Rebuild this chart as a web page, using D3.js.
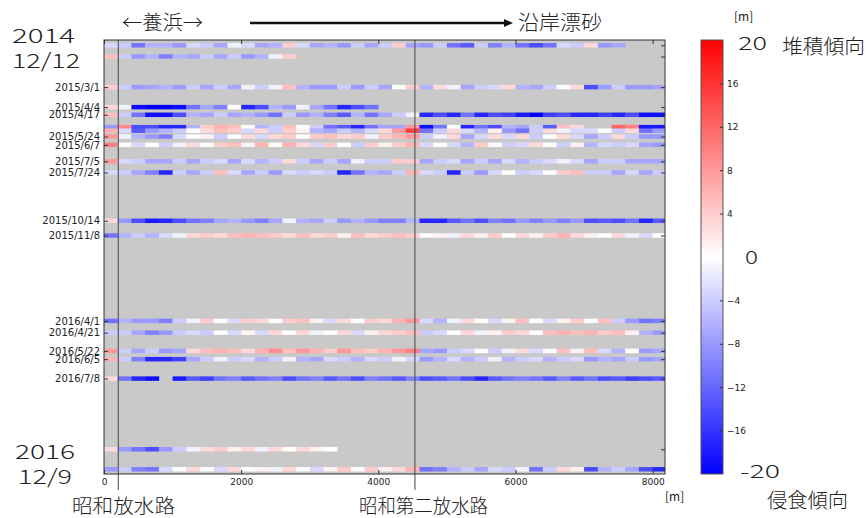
<!DOCTYPE html>
<html>
<head>
<meta charset="utf-8">
<script src="https://cdn.jsdelivr.net/npm/d3@7"></script>
<style>
  body { margin: 0; background: #fff; }
  svg { display: block; }
  .ax text { font-family: "DejaVu Sans", sans-serif; fill: #222; }
  .ax path { display: none; }
  .ax line { stroke: #333; }
  .jp { font-family: "Noto Sans CJK JP", sans-serif; fill: #222; }
</style>
</head>
<body>
<script>
// cell width along the shore [m]
var cellSize = 200;

// survey dates (one row each)
var rowDates = ["2014-12-20", "2015-01-08", "2015-03-01", "2015-04-04", "2015-04-17",
    "2015-05-08", "2015-05-14", "2015-05-24", "2015-06-07", "2015-07-05", "2015-07-24",
    "2015-10-14", "2015-11-08", "2016-04-01", "2016-04-21", "2016-05-22", "2016-06-05",
    "2016-07-08", "2016-11-05", "2016-12-09"];

// shoreline change [m] per 200 m cell, starting at 0 m
var r141220 = [-3, -4, -11, -6, -6, -8, -3, -4, -7, -1, -3, -7, -6, 4, -3, -7, -6, -8, -4, -7, -4, 4, -7, -8, -4, -11, -13, -4, -10, -6, -11, -14, -11, -3, -4, 3, -8, -7];
var r150108 = [5, -4, -8, -6, -10, -6, -7, -4, -7, -4, -8, -6, -1, 4];
var r150301 = [4, -4, -8, -7, -6, -8, -4, -7, -4, -7, -1, -4, -1, 5, -6, -8, -8, -4, -8, -4, -7, 0, 4, -6, 3, -1, -7, -4, -3, 3, -6, -7, -4, 0, 3, -14, -8, -4, -8, -8, -7];
var r150404 = [3, -1, -19, -20, -20, -19, -11, -7, -10, 0, -17, -14, -6, -8, -1, -7, -11, -17, -14, -11];
var r150417 = [5, -4, -11, -19, -19, -14, -6, -7, -4, -7, -6, -8, -11, -4, -8, -6, -10, -13, -6, -11, -7, -4, -1, -17, -14, -17, -11, -17, -14, -15, -18, -20, -15, -14, -17, -17, -15, -17, -14, -19, -19];
var r150508 = [-8, 9, -14, -14, -17, -17, -6, 4, 6, 5, 0, -6, -4, 5, 0, -4, -11, -13, -17, -11, -7, -7, 8, -19, -11, 0, -17, -11, -14, -6, -7, -4, -13, 5, 3, null, null, 12, 10, -18, -18];
var r150514 = [6, -3, -13, -8, -6, -4, 0, 3, 5, 4, -3, 3, -4, 4, 1, -6, -7, -4, -6, -3, 3, 8, 15, -11, -4, 3, -3, -6, 1, -8, -11, -4, 3, -1, -3, -3, 0, -4, 3, -11, -8];
var r150524 = [8, -1, -6, -8, -10, -3, 0, 1, -4, 0, 3, -3, 3, 4, 0, 4, 5, 3, 4, -1, 4, 6, 8, -4, -1, 3, -7, -3, 3, -3, 3, -4, 0, 3, -3, -7, -4, 3, -4, -8, -8];
var r150607 = [10, 0, -3, 0, -4, -1, 3, 0, 4, 5, 1, 6, 0, 6, 3, -3, 4, 0, -4, 4, 1, 4, 6, -3, 0, -3, -6, 4, 0, -4, -3, 3, 0, -4, 1, -6, -3, -4, -3, -7, -8];
var r150705 = [8, -3, -4, -7, -7, -4, -7, -4, -3, -7, -3, -6, -4, 3, -4, -7, -4, -7, -1, -4, -4, 4, 4, -7, -4, -3, -7, -4, -7, -3, -6, -4, -3, -1, -3, -7, -4, -4, -7, -7, -7];
var r150724 = [-3, -4, -7, -10, -17, -4, -7, -4, 5, -3, -7, -4, -8, -3, -4, -3, -4, -17, -11, -6, -7, -4, 6, -3, -4, -17, -4, -8, -3, 0, -4, -3, 0, 4, 5, -4, -4, -7, -3, -7, -4];
var r151014 = [3, -8, -14, -18, -17, -14, -11, -10, -7, -6, -8, -10, -7, -1, -6, -7, -4, -8, -6, -8, -10, -10, -6, -17, -17, -13, -11, -14, -10, -11, -8, -10, -8, -10, -8, -14, -13, -14, -11, -17, -13];
var r151108 = [-11, -6, -4, -6, -3, -1, 3, 4, 3, 5, 6, 5, 4, 3, 5, 3, 4, 1, 5, 3, 4, 5, 4, 0, 1, -1, 3, 1, 4, 0, 3, 1, 4, 6, 3, 1, 0, 3, -1, -3, 0];
var r160401 = [-11, -6, -8, -8, -10, -4, -1, 4, 0, -3, 4, 3, 0, 4, 5, 1, -3, 3, 0, 4, 3, 6, 8, -3, -6, -1, 3, 0, -3, 1, 5, 0, -3, 1, 4, 0, 5, -4, -8, -11, -10];
var r160421 = [-4, -4, -7, -10, -8, -4, -3, -4, 0, -3, 1, -3, 3, 0, 3, -1, 0, 3, -3, 1, 3, 4, 5, -4, -3, 0, 3, -1, 1, 4, 3, 0, 5, 6, 5, 6, 4, 5, 1, -6, -8];
var r160522 = [8, -4, -7, -4, -8, -7, 3, 5, 6, 5, 3, 6, 9, 5, 8, 6, 4, 8, 5, 4, 6, 8, 10, -7, -8, -4, -3, 0, -4, -1, 3, -3, 0, 5, 1, 5, -3, -6, 0, -8, -7];
var r160605 = [6, -4, -10, -17, -17, -15, -7, -4, -1, -4, -3, -6, -4, -1, -6, -7, -3, -4, -6, -3, -4, -1, -3, -8, -6, -3, -6, -4, -1, -6, -4, -3, -6, -4, -3, -8, -6, -7, -4, -8, -7];
var r160708 = [3, -11, -17, -19, null, -18, -13, -15, -11, -10, -13, -11, -10, -14, -11, -10, -13, -11, -14, -10, -11, -13, -10, -14, -13, -11, -14, -17, -13, -11, -10, -11, -13, -10, -13, -11, -14, -13, -15, -14, -13];
var r161105 = [3, -8, -11, -14, -8, -4, -1, 3, 4, 1, 3, -1, 3, 0, 3, 1, 0];
var r161209 = [-8, -4, -10, -11, -3, 0, 3, 0, -3, 3, 0, 1, -1, 3, 0, -3, 1, 4, 0, 4, 1, 3, 6, -11, -10, -6, -4, -7, -3, -4, -1, -11, -4, 3, 1, -14, -6, -4, -7, -14, -17];

var rowValues = [r141220, r150108, r150301, r150404, r150417, r150508, r150514, r150524,
    r150607, r150705, r150724, r151014, r151108, r160401, r160421, r160522, r160605,
    r160708, r161105, r161209];

// labelled survey dates on the left axis
var tickDates = ["2015-03-01", "2015-04-04", "2015-04-17", "2015-05-24", "2015-06-07",
    "2015-07-05", "2015-07-24", "2015-10-14", "2015-11-08", "2016-04-01", "2016-04-21",
    "2016-05-22", "2016-06-05", "2016-07-08"];
var xTicks = [0, 2000, 4000, 6000, 8000];
var cbTicks = [-16, -12, -8, -4, 4, 8, 12, 16];
var drains = [208, 4534];   // 昭和放水路, 昭和第二放水路 [m]

var parse = d3.timeParse("%Y-%m-%d");
var fmt = d3.timeFormat("%Y/%-m/%-d");

var plot = { left: 104, right: 665, top: 40, bottom: 474 };

var svg = d3.select("body").append("svg")
    .attr("width", 866)
    .attr("height", 518);

var x = d3.scaleLinear().domain([0, 8180]).range([plot.left, plot.right]);
var y = d3.scaleTime().domain([parse("2014-12-11"), parse("2016-12-17")]).range([plot.top, plot.bottom]);
var color = d3.scaleLinear().domain([-20, 0, 20]).range(["#0000ff", "#ffffff", "#ff0000"]).clamp(true);

// plot background
svg.append("rect")
    .attr("x", plot.left).attr("y", plot.top)
    .attr("width", plot.right - plot.left).attr("height", plot.bottom - plot.top)
    .attr("fill", "#c9c9c9");

svg.append("clipPath").attr("id", "clip")
    .append("rect")
    .attr("x", plot.left).attr("y", plot.top)
    .attr("width", plot.right - plot.left).attr("height", plot.bottom - plot.top);

// build cells
var cells = [];
rowDates.forEach(function (d, r) {
    rowValues[r].forEach(function (v, i) {
        if (v !== null) cells.push({ date: parse(d), i: i, v: v });
    });
});

var rowH = 4.5;
svg.append("g").attr("clip-path", "url(#clip)")
    .selectAll("rect")
    .data(cells)
    .enter().append("rect")
    .attr("x", function (d) { return x(d.i * cellSize); })
    .attr("width", function (d) { return x((d.i + 1) * cellSize) - x(d.i * cellSize) + 0.3; })
    .attr("y", function (d) { return y(d.date) - rowH / 2; })
    .attr("height", rowH)
    .attr("fill", function (d) { return color(d.v); });

// drain lines
svg.selectAll(".drain")
    .data(drains)
    .enter().append("line")
    .attr("class", "drain")
    .attr("x1", function (d) { return x(d); })
    .attr("x2", function (d) { return x(d); })
    .attr("y1", plot.top)
    .attr("y2", 490)
    .attr("stroke", "#444")
    .attr("stroke-width", 1);

// frame
svg.append("rect")
    .attr("x", plot.left).attr("y", plot.top)
    .attr("width", plot.right - plot.left).attr("height", plot.bottom - plot.top)
    .attr("fill", "none").attr("stroke", "#333");

// axes
var allTicks = rowDates.filter(function (d) { return d !== "2015-05-08" && d !== "2015-05-14"; }).map(parse);

svg.append("g").attr("class", "ax")
    .attr("transform", "translate(" + plot.left + ",0)")
    .call(d3.axisLeft(y).tickValues(tickDates.map(parse)).tickFormat(fmt).tickSize(-4).tickPadding(4))
    .selectAll("text").style("font-size", "10px");

svg.append("g").attr("class", "ax")
    .attr("transform", "translate(" + plot.right + ",0)")
    .call(d3.axisRight(y).tickValues(allTicks).tickFormat("").tickSize(-4));

svg.append("g").attr("class", "ax")
    .attr("transform", "translate(0," + plot.bottom + ")")
    .call(d3.axisBottom(x).tickValues(xTicks).tickFormat(d3.format("d")).tickSize(-4).tickPadding(5))
    .selectAll("text").style("font-size", "9px");

svg.append("g").attr("class", "ax")
    .attr("transform", "translate(0," + plot.top + ")")
    .call(d3.axisTop(x).tickValues(xTicks).tickFormat("").tickSize(-4));

// colorbar
var cb = { left: 701, width: 22 };
var cy = d3.scaleLinear().domain([-20, 20]).range([plot.bottom, plot.top]);
var grad = svg.append("defs").append("linearGradient")
    .attr("id", "bwr").attr("x1", 0).attr("y1", 1).attr("x2", 0).attr("y2", 0);
grad.selectAll("stop")
    .data([-20, 0, 20])
    .enter().append("stop")
    .attr("offset", function (d) { return (d + 20) / 40; })
    .attr("stop-color", function (d) { return color(d); });

svg.append("rect")
    .attr("x", cb.left).attr("y", plot.top)
    .attr("width", cb.width).attr("height", plot.bottom - plot.top)
    .attr("fill", "url(#bwr)")
    .attr("stroke", "#555");

svg.append("g").attr("class", "ax")
    .attr("transform", "translate(" + (cb.left + cb.width) + ",0)")
    .call(d3.axisRight(cy).tickValues(cbTicks).tickSize(-3).tickPadding(4))
    .selectAll("text").style("font-size", "9px");

// annotations
function jp(txt, xx, yy, size, len) {
    var t = svg.append("text").attr("class", "jp")
        .attr("x", xx).attr("y", yy)
        .style("font-size", size + "px")
        .style("font-weight", 300)
        .text(txt);
    if (len) t.attr("textLength", len).attr("lengthAdjust", "spacingAndGlyphs");
    return t;
}

jp("2014", 12, 43, 20, 63);
jp("12/12", 12, 68, 20, 68);
jp("2016", 15, 459, 20, 60);
jp("12/9", 18, 484, 20, 54);

jp("←養浜→", 122, 30, 20, 81);
jp("沿岸漂砂", 518, 30, 20, 84);
svg.append("line")
    .attr("x1", 250).attr("x2", 507).attr("y1", 23).attr("y2", 23)
    .attr("stroke", "#111").attr("stroke-width", 2.5);
svg.append("path")
    .attr("d", "M504,19L513,23L504,27Z")
    .attr("fill", "#111");

jp("20", 738, 50, 18, 29);
jp("0", 745, 264, 18, 13);
jp("-20", 740, 478, 18, 40);
jp("堆積傾向", 782, 54, 20, 83);
jp("侵食傾向", 767, 508, 20, 81);

jp("昭和放水路", 72, 513, 19, 103);
jp("昭和第二放水路", 359, 513, 19, 129);

svg.append("text").attr("class", "jp")
    .attr("x", 734).attr("y", 21).style("font-size", "12px").text("[m]");
svg.append("text").attr("class", "jp")
    .attr("x", 665).attr("y", 501).style("font-size", "12px").text("[m]");
</script>
</body>
</html>
